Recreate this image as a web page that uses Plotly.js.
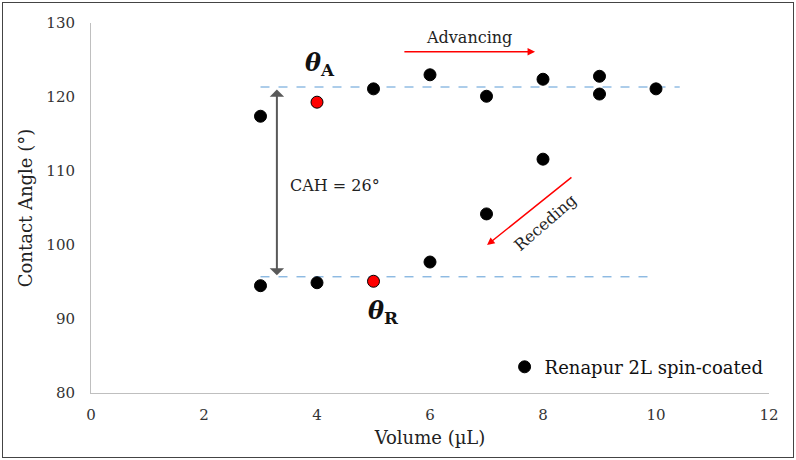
<!DOCTYPE html>
<html><head><meta charset="utf-8">
<script src="https://cdn.plot.ly/plotly-3.0.1.min.js"></script>
<style>body{margin:0;}#frame{position:absolute;left:2px;top:2px;width:790px;height:454px;border:1px solid #444;pointer-events:none;}</style>
</head><body>
<div id="chart" style="width:796px;height:460px;"></div>
<div id="frame"></div>
<script>
const volume = [3, 3, 4, 4, 5, 5, 6, 6, 7, 7, 8, 8, 9, 9, 10];
const angle = [117.4, 94.5, 119.3, 94.9, 121.1, 95.1, 123.0, 97.7, 120.1, 104.2, 122.4, 111.6, 122.8, 120.4, 121.1];
const pointColor = ['black','black','red','black','black','red','black','black','black','black','black','black','black','black','black'];
const advLineX = [3, 10.42];
const advLineY = [121.35, 121.35];
const recLineX = [3, 9.95];
const recLineY = [95.7, 95.7];
const xTicks = [0, 2, 4, 6, 8, 10, 12];
const yTicks = [80, 90, 100, 110, 120, 130];

const serif = 'DejaVu Serif, serif';
const tickFont = {family: 'DejaVu Serif, serif', size: 15, color: '#333'};

const traces = [
  {x: advLineX, y: advLineY, mode: 'lines', line: {color: '#5b9bd5', width: 1, dash: 'dash'}, showlegend: false, hoverinfo: 'skip'},
  {x: recLineX, y: recLineY, mode: 'lines', line: {color: '#5b9bd5', width: 1, dash: 'dash'}, showlegend: false, hoverinfo: 'skip'},
  {x: volume, y: angle, mode: 'markers', name: 'Renapur 2L spin-coated',
   marker: {size: 12, color: pointColor, line: {color: 'black', width: 1}}}
];

const layout = {
  width: 796, height: 460,
  margin: {l: 91, r: 27, t: 23, b: 67},
  paper_bgcolor: 'white', plot_bgcolor: 'white',
  showlegend: true,
  legend: {x: 0.61, y: 0.02, xanchor: 'left', yanchor: 'bottom', font: {family: serif, size: 18, color: '#111'}, bgcolor: 'rgba(0,0,0,0)', itemwidth: 30},
  xaxis: {range: [0, 12], tickvals: xTicks, ticks: '', showgrid: false, zeroline: false,
          showline: true, linecolor: '#bfbfbf', linewidth: 1, tickfont: tickFont, ticklabelstandoff: 8,
          title: {text: 'Volume (µL)', font: {family: serif, size: 18, color: '#222'}, standoff: 8}},
  yaxis: {range: [80, 130], tickvals: yTicks, ticks: '', showgrid: false, zeroline: false,
          showline: true, linecolor: '#bfbfbf', linewidth: 1, tickfont: tickFont, ticklabelstandoff: 12,
          title: {text: 'Contact Angle (°)', font: {family: serif, size: 18, color: '#222'}, standoff: 9}},
  annotations: [
    {x: 3.29, y: 95.9, ax: 3.29, ay: 121.2, xref: 'x', yref: 'y', axref: 'x', ayref: 'y', text: '',
     showarrow: true, arrowside: 'end+start', arrowhead: 1, startarrowhead: 1, arrowwidth: 2, arrowcolor: '#595959', arrowsize: 1.2, startarrowsize: 1.2},
    {x: 7.86, y: 126.1, ax: 5.52, ay: 126.1, xref: 'x', yref: 'y', axref: 'x', ayref: 'y', text: '',
     showarrow: true, arrowhead: 2, arrowwidth: 1.5, arrowcolor: 'red', arrowsize: 1},
    {x: 7.01, y: 100.0, ax: 8.53, ay: 109.3, xref: 'x', yref: 'y', axref: 'x', ayref: 'y', text: '',
     showarrow: true, arrowhead: 2, arrowwidth: 1.5, arrowcolor: 'red', arrowsize: 1},
    {x: 6.69, y: 128.0, xref: 'x', yref: 'y', text: 'Advancing', showarrow: false, font: {family: serif, size: 16, color: '#222'}},
    {x: 8.04, y: 103.1, xref: 'x', yref: 'y', text: 'Receding', showarrow: false, textangle: -41, font: {family: serif, size: 16, color: '#222'}},
    {x: 4.32, y: 108.1, xref: 'x', yref: 'y', text: 'CAH = 26°', showarrow: false, font: {family: serif, size: 16, color: '#222'}},
    {x: 4.05, y: 124.4, xref: 'x', yref: 'y', text: '<i><b>θ</b></i><sub><b>A</b></sub>', showarrow: false, font: {family: 'DejaVu Serif, serif', size: 24, color: '#111'}},
    {x: 5.17, y: 91.0, xref: 'x', yref: 'y', text: '<i><b>θ</b></i><sub><b>R</b></sub>', showarrow: false, font: {family: 'DejaVu Serif, serif', size: 24, color: '#111'}}
  ]
};
Plotly.newPlot('chart', traces, layout, {displayModeBar: false, staticPlot: true});
</script>
</body></html>
